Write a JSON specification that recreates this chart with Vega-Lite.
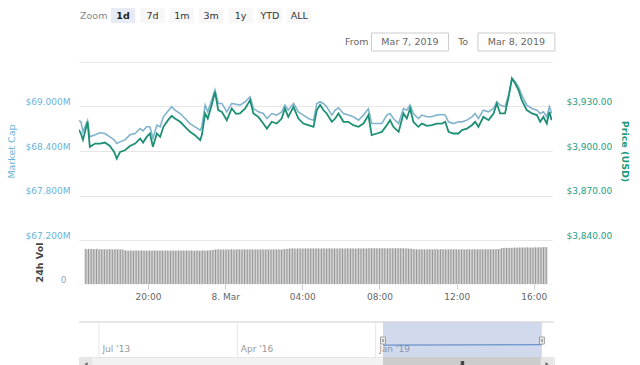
{
"$schema": "https://vega.github.io/schema/vega-lite/v6.json",
"padding": {"left": 6, "top": 8, "right": 5, "bottom": 0},
"background": "white",
"config": {"font": "DejaVu Sans", "view": {"stroke": null}},
"datasets": {
"btn": [{"b":"Zoom","k":0},{"b":"1d","k":2},{"b":"7d","k":1},{"b":"1m","k":1},{"b":"3m","k":1},{"b":"1y","k":1},{"b":"YTD","k":1},{"b":"ALL","k":1}],
"rng": [{"k":"From","label":"From","box":false},{"k":"d1","label":"Mar 7, 2019","box":true},{"k":"To","label":"To","box":false},{"k":"d2","label":"Mar 8, 2019","box":true}],
"sel": [{"s":"2019-02-23","e":"2022-04-22"}],
"navgrid": [{"g":"2013-07-01"},{"g":"2016-04-01"},{"g":"2019-01-01"}],
"navline": [{"d":"2019-02-23","y":0.34},{"d":"2022-04-22","y":0.35}],
"handles": [{"d":"2019-02-23"},{"d":"2022-04-22"}],
"grip": [{"d":"2020-09-22"}],
"px": [
{"t":"2019-03-07T16:41","p":3914.3,"c":68.807},
{"t":"2019-03-07T16:47","p":3911.6,"c":68.793},
{"t":"2019-03-07T16:53","p":3907.5,"c":68.658},
{"t":"2019-03-07T17:07","p":3919.7,"c":68.807},
{"t":"2019-03-07T17:14","p":3902.8,"c":68.591},
{"t":"2019-03-07T17:30","p":3905.0,"c":68.618},
{"t":"2019-03-07T17:45","p":3905.0,"c":68.645},
{"t":"2019-03-07T18:00","p":3905.7,"c":68.635},
{"t":"2019-03-07T18:15","p":3903.4,"c":68.591},
{"t":"2019-03-07T18:28","p":3899.4,"c":68.550},
{"t":"2019-03-07T18:36","p":3894.9,"c":68.500},
{"t":"2019-03-07T18:46","p":3899.4,"c":68.523},
{"t":"2019-03-07T19:01","p":3900.5,"c":68.550},
{"t":"2019-03-07T19:16","p":3903.4,"c":68.618},
{"t":"2019-03-07T19:32","p":3905.0,"c":68.635},
{"t":"2019-03-07T19:47","p":3908.4,"c":68.703},
{"t":"2019-03-07T19:56","p":3905.7,"c":68.672},
{"t":"2019-03-07T20:07","p":3909.5,"c":68.726},
{"t":"2019-03-07T20:17","p":3911.8,"c":68.726},
{"t":"2019-03-07T20:26","p":3902.8,"c":68.568},
{"t":"2019-03-07T20:38","p":3911.8,"c":68.749},
{"t":"2019-03-07T20:48","p":3909.5,"c":68.726},
{"t":"2019-03-07T20:58","p":3916.3,"c":68.861},
{"t":"2019-03-07T21:12","p":3920.8,"c":68.938},
{"t":"2019-03-07T21:23","p":3923.7,"c":68.996},
{"t":"2019-03-07T21:33","p":3921.9,"c":68.951},
{"t":"2019-03-07T21:49","p":3919.7,"c":68.905},
{"t":"2019-03-07T22:04","p":3916.3,"c":68.838},
{"t":"2019-03-07T22:19","p":3912.9,"c":68.770},
{"t":"2019-03-07T22:34","p":3910.7,"c":68.726},
{"t":"2019-03-07T22:50","p":3907.3,"c":68.681},
{"t":"2019-03-07T22:55","p":3910.7,"c":68.726},
{"t":"2019-03-07T23:05","p":3925.3,"c":69.019},
{"t":"2019-03-07T23:13","p":3921.9,"c":68.928},
{"t":"2019-03-07T23:25","p":3931.0,"c":69.086},
{"t":"2019-03-07T23:35","p":3939.9,"c":69.222},
{"t":"2019-03-07T23:45","p":3927.6,"c":69.041},
{"t":"2019-03-07T23:56","p":3926.4,"c":69.041},
{"t":"2019-03-08T00:11","p":3920.8,"c":68.928},
{"t":"2019-03-08T00:26","p":3928.7,"c":69.041},
{"t":"2019-03-08T00:39","p":3925.1,"c":69.030},
{"t":"2019-03-08T00:51","p":3925.3,"c":69.019},
{"t":"2019-03-08T01:07","p":3928.7,"c":69.064},
{"t":"2019-03-08T01:22","p":3934.3,"c":69.131},
{"t":"2019-03-08T01:32","p":3925.3,"c":68.973},
{"t":"2019-03-08T01:47","p":3923.0,"c":68.928},
{"t":"2019-03-08T02:02","p":3918.5,"c":68.905},
{"t":"2019-03-08T02:13","p":3915.1,"c":68.838},
{"t":"2019-03-08T02:28","p":3919.7,"c":68.905},
{"t":"2019-03-08T02:43","p":3918.5,"c":68.884},
{"t":"2019-03-08T02:58","p":3921.9,"c":68.928},
{"t":"2019-03-08T03:08","p":3928.7,"c":69.019},
{"t":"2019-03-08T03:18","p":3923.0,"c":68.951},
{"t":"2019-03-08T03:34","p":3929.8,"c":69.041},
{"t":"2019-03-08T03:49","p":3921.9,"c":68.928},
{"t":"2019-03-08T04:04","p":3918.5,"c":68.884},
{"t":"2019-03-08T04:19","p":3917.4,"c":68.838},
{"t":"2019-03-08T04:35","p":3916.3,"c":68.816},
{"t":"2019-03-08T04:45","p":3927.6,"c":69.041},
{"t":"2019-03-08T04:55","p":3931.0,"c":69.064},
{"t":"2019-03-08T05:05","p":3927.6,"c":69.041},
{"t":"2019-03-08T05:15","p":3925.3,"c":68.996},
{"t":"2019-03-08T05:31","p":3919.7,"c":68.884},
{"t":"2019-03-08T05:41","p":3921.9,"c":68.951},
{"t":"2019-03-08T05:51","p":3925.3,"c":68.982},
{"t":"2019-03-08T06:06","p":3919.7,"c":68.905},
{"t":"2019-03-08T06:21","p":3919.7,"c":68.884},
{"t":"2019-03-08T06:36","p":3917.4,"c":68.861},
{"t":"2019-03-08T06:52","p":3916.3,"c":68.816},
{"t":"2019-03-08T07:07","p":3918.5,"c":68.884},
{"t":"2019-03-08T07:22","p":3924.2,"c":68.969},
{"t":"2019-03-08T07:32","p":3910.7,"c":68.770},
{"t":"2019-03-08T07:48","p":3911.8,"c":68.770},
{"t":"2019-03-08T08:03","p":3912.9,"c":68.770},
{"t":"2019-03-08T08:18","p":3917.4,"c":68.884},
{"t":"2019-03-08T08:28","p":3920.8,"c":68.905},
{"t":"2019-03-08T08:38","p":3916.3,"c":68.838},
{"t":"2019-03-08T08:54","p":3912.9,"c":68.770},
{"t":"2019-03-08T09:09","p":3925.3,"c":68.973},
{"t":"2019-03-08T09:19","p":3921.9,"c":68.951},
{"t":"2019-03-08T09:29","p":3928.7,"c":69.019},
{"t":"2019-03-08T09:39","p":3919.7,"c":68.905},
{"t":"2019-03-08T09:54","p":3916.3,"c":68.838},
{"t":"2019-03-08T10:05","p":3918.5,"c":68.884},
{"t":"2019-03-08T10:20","p":3917.0,"c":68.861},
{"t":"2019-03-08T10:35","p":3917.4,"c":68.861},
{"t":"2019-03-08T10:50","p":3918.5,"c":68.884},
{"t":"2019-03-08T11:06","p":3918.5,"c":68.892},
{"t":"2019-03-08T11:16","p":3919.7,"c":68.884},
{"t":"2019-03-08T11:26","p":3912.9,"c":68.793},
{"t":"2019-03-08T11:41","p":3911.8,"c":68.770},
{"t":"2019-03-08T11:56","p":3911.8,"c":68.793},
{"t":"2019-03-08T12:07","p":3914.1,"c":68.793},
{"t":"2019-03-08T12:22","p":3915.1,"c":68.816},
{"t":"2019-03-08T12:37","p":3917.4,"c":68.861},
{"t":"2019-03-08T12:47","p":3919.7,"c":68.905},
{"t":"2019-03-08T12:57","p":3916.3,"c":68.838},
{"t":"2019-03-08T13:12","p":3923.0,"c":68.951},
{"t":"2019-03-08T13:28","p":3920.8,"c":68.928},
{"t":"2019-03-08T13:43","p":3925.3,"c":68.973},
{"t":"2019-03-08T13:53","p":3932.0,"c":69.064},
{"t":"2019-03-08T14:03","p":3925.3,"c":69.019},
{"t":"2019-03-08T14:18","p":3925.3,"c":68.996},
{"t":"2019-03-08T14:29","p":3936.6,"c":69.154},
{"t":"2019-03-08T14:39","p":3948.9,"c":69.378},
{"t":"2019-03-08T14:49","p":3945.5,"c":69.334},
{"t":"2019-03-08T14:59","p":3941.1,"c":69.266},
{"t":"2019-03-08T15:09","p":3934.3,"c":69.154},
{"t":"2019-03-08T15:24","p":3927.6,"c":69.019},
{"t":"2019-03-08T15:40","p":3925.3,"c":68.973},
{"t":"2019-03-08T15:55","p":3924.2,"c":68.951},
{"t":"2019-03-08T16:05","p":3919.7,"c":68.905},
{"t":"2019-03-08T16:15","p":3923.0,"c":68.928},
{"t":"2019-03-08T16:25","p":3918.5,"c":68.861},
{"t":"2019-03-08T16:33","p":3926.4,"c":68.996},
{"t":"2019-03-08T16:40","p":3920.8,"c":68.905}
],
"vol": [
{"t":"2019-03-07T16:45","v":10.7},{"t":"2019-03-07T16:50","v":10.6},{"t":"2019-03-07T16:55","v":10.7},
{"t":"2019-03-07T17:00","v":10.65},{"t":"2019-03-07T17:05","v":10.7},{"t":"2019-03-07T17:10","v":10.6},{"t":"2019-03-07T17:15","v":10.55},{"t":"2019-03-07T17:20","v":10.7},{"t":"2019-03-07T17:25","v":10.6},{"t":"2019-03-07T17:30","v":10.55},{"t":"2019-03-07T17:35","v":10.6},{"t":"2019-03-07T17:40","v":10.55},{"t":"2019-03-07T17:45","v":10.6},{"t":"2019-03-07T17:50","v":10.5},{"t":"2019-03-07T17:55","v":10.55},
{"t":"2019-03-07T18:00","v":10.6},{"t":"2019-03-07T18:05","v":10.55},{"t":"2019-03-07T18:10","v":10.5},{"t":"2019-03-07T18:15","v":10.55},{"t":"2019-03-07T18:20","v":10.6},{"t":"2019-03-07T18:25","v":10.55},{"t":"2019-03-07T18:30","v":10.5},{"t":"2019-03-07T18:35","v":10.55},{"t":"2019-03-07T18:40","v":10.5},{"t":"2019-03-07T18:45","v":10.45},{"t":"2019-03-07T18:50","v":10.2},{"t":"2019-03-07T18:55","v":10.2},
{"t":"2019-03-07T19:00","v":10.15},{"t":"2019-03-07T19:05","v":10.2},{"t":"2019-03-07T19:10","v":10.2},{"t":"2019-03-07T19:15","v":10.15},{"t":"2019-03-07T19:20","v":10.2},{"t":"2019-03-07T19:25","v":10.2},{"t":"2019-03-07T19:30","v":10.2},{"t":"2019-03-07T19:35","v":10.15},{"t":"2019-03-07T19:40","v":10.2},{"t":"2019-03-07T19:45","v":10.2},{"t":"2019-03-07T19:50","v":10.2},{"t":"2019-03-07T19:55","v":10.15},
{"t":"2019-03-07T20:00","v":10.2},{"t":"2019-03-07T20:05","v":10.2},{"t":"2019-03-07T20:10","v":10.15},{"t":"2019-03-07T20:15","v":10.2},{"t":"2019-03-07T20:20","v":10.2},{"t":"2019-03-07T20:25","v":10.2},{"t":"2019-03-07T20:30","v":10.15},{"t":"2019-03-07T20:35","v":10.2},{"t":"2019-03-07T20:40","v":10.2},{"t":"2019-03-07T20:45","v":10.2},{"t":"2019-03-07T20:50","v":10.15},{"t":"2019-03-07T20:55","v":10.2},
{"t":"2019-03-07T21:00","v":10.2},{"t":"2019-03-07T21:05","v":10.15},{"t":"2019-03-07T21:10","v":10.2},{"t":"2019-03-07T21:15","v":10.2},{"t":"2019-03-07T21:20","v":10.2},{"t":"2019-03-07T21:25","v":10.15},{"t":"2019-03-07T21:30","v":10.2},{"t":"2019-03-07T21:35","v":10.2},{"t":"2019-03-07T21:40","v":10.2},{"t":"2019-03-07T21:45","v":10.15},{"t":"2019-03-07T21:50","v":10.2},{"t":"2019-03-07T21:55","v":10.2},
{"t":"2019-03-07T22:00","v":10.2},{"t":"2019-03-07T22:05","v":10.15},{"t":"2019-03-07T22:10","v":10.2},{"t":"2019-03-07T22:15","v":10.2},{"t":"2019-03-07T22:20","v":10.2},{"t":"2019-03-07T22:25","v":10.15},{"t":"2019-03-07T22:30","v":10.2},{"t":"2019-03-07T22:35","v":10.2},{"t":"2019-03-07T22:40","v":10.15},{"t":"2019-03-07T22:45","v":10.2},{"t":"2019-03-07T22:50","v":10.2},{"t":"2019-03-07T22:55","v":10.2},
{"t":"2019-03-07T23:00","v":10.15},{"t":"2019-03-07T23:05","v":10.2},{"t":"2019-03-07T23:10","v":10.25},{"t":"2019-03-07T23:15","v":10.3},{"t":"2019-03-07T23:20","v":10.35},{"t":"2019-03-07T23:25","v":10.4},{"t":"2019-03-07T23:30","v":10.5},{"t":"2019-03-07T23:35","v":10.5},{"t":"2019-03-07T23:40","v":10.55},{"t":"2019-03-07T23:45","v":10.5},{"t":"2019-03-07T23:50","v":10.5},{"t":"2019-03-07T23:55","v":10.5},
{"t":"2019-03-08T00:00","v":10.5},{"t":"2019-03-08T00:05","v":10.55},{"t":"2019-03-08T00:10","v":10.5},{"t":"2019-03-08T00:15","v":10.5},{"t":"2019-03-08T00:20","v":10.55},{"t":"2019-03-08T00:25","v":10.5},{"t":"2019-03-08T00:30","v":10.5},{"t":"2019-03-08T00:35","v":10.5},{"t":"2019-03-08T00:40","v":10.55},{"t":"2019-03-08T00:45","v":10.5},{"t":"2019-03-08T00:50","v":10.5},{"t":"2019-03-08T00:55","v":10.5},
{"t":"2019-03-08T01:00","v":10.55},{"t":"2019-03-08T01:05","v":10.5},{"t":"2019-03-08T01:10","v":10.5},{"t":"2019-03-08T01:15","v":10.5},{"t":"2019-03-08T01:20","v":10.55},{"t":"2019-03-08T01:25","v":10.5},{"t":"2019-03-08T01:30","v":10.5},{"t":"2019-03-08T01:35","v":10.55},{"t":"2019-03-08T01:40","v":10.5},{"t":"2019-03-08T01:45","v":10.5},{"t":"2019-03-08T01:50","v":10.5},{"t":"2019-03-08T01:55","v":10.55},
{"t":"2019-03-08T02:00","v":10.5},{"t":"2019-03-08T02:05","v":10.5},{"t":"2019-03-08T02:10","v":10.55},{"t":"2019-03-08T02:15","v":10.5},{"t":"2019-03-08T02:20","v":10.5},{"t":"2019-03-08T02:25","v":10.5},{"t":"2019-03-08T02:30","v":10.55},{"t":"2019-03-08T02:35","v":10.5},{"t":"2019-03-08T02:40","v":10.5},{"t":"2019-03-08T02:45","v":10.55},{"t":"2019-03-08T02:50","v":10.5},{"t":"2019-03-08T02:55","v":10.5},
{"t":"2019-03-08T03:00","v":10.55},{"t":"2019-03-08T03:05","v":10.6},{"t":"2019-03-08T03:10","v":10.65},{"t":"2019-03-08T03:15","v":10.7},{"t":"2019-03-08T03:20","v":10.8},{"t":"2019-03-08T03:25","v":10.8},{"t":"2019-03-08T03:30","v":10.85},{"t":"2019-03-08T03:35","v":10.8},{"t":"2019-03-08T03:40","v":10.8},{"t":"2019-03-08T03:45","v":10.8},{"t":"2019-03-08T03:50","v":10.85},{"t":"2019-03-08T03:55","v":10.8},
{"t":"2019-03-08T04:00","v":10.8},{"t":"2019-03-08T04:05","v":10.8},{"t":"2019-03-08T04:10","v":10.85},{"t":"2019-03-08T04:15","v":10.8},{"t":"2019-03-08T04:20","v":10.8},{"t":"2019-03-08T04:25","v":10.8},{"t":"2019-03-08T04:30","v":10.85},{"t":"2019-03-08T04:35","v":10.8},{"t":"2019-03-08T04:40","v":10.8},{"t":"2019-03-08T04:45","v":10.85},{"t":"2019-03-08T04:50","v":10.8},{"t":"2019-03-08T04:55","v":10.8},
{"t":"2019-03-08T05:00","v":10.8},{"t":"2019-03-08T05:05","v":10.85},{"t":"2019-03-08T05:10","v":10.8},{"t":"2019-03-08T05:15","v":10.8},{"t":"2019-03-08T05:20","v":10.8},{"t":"2019-03-08T05:25","v":10.85},{"t":"2019-03-08T05:30","v":10.8},{"t":"2019-03-08T05:35","v":10.8},{"t":"2019-03-08T05:40","v":10.85},{"t":"2019-03-08T05:45","v":10.8},{"t":"2019-03-08T05:50","v":10.8},{"t":"2019-03-08T05:55","v":10.8},
{"t":"2019-03-08T06:00","v":10.85},{"t":"2019-03-08T06:05","v":10.8},{"t":"2019-03-08T06:10","v":10.8},{"t":"2019-03-08T06:15","v":10.8},{"t":"2019-03-08T06:20","v":10.85},{"t":"2019-03-08T06:25","v":10.8},{"t":"2019-03-08T06:30","v":10.8},{"t":"2019-03-08T06:35","v":10.85},{"t":"2019-03-08T06:40","v":10.8},{"t":"2019-03-08T06:45","v":10.8},{"t":"2019-03-08T06:50","v":10.8},{"t":"2019-03-08T06:55","v":10.85},
{"t":"2019-03-08T07:00","v":10.8},{"t":"2019-03-08T07:05","v":10.8},{"t":"2019-03-08T07:10","v":10.85},{"t":"2019-03-08T07:15","v":10.8},{"t":"2019-03-08T07:20","v":10.8},{"t":"2019-03-08T07:25","v":10.9},{"t":"2019-03-08T07:30","v":10.85},{"t":"2019-03-08T07:35","v":10.9},{"t":"2019-03-08T07:40","v":10.85},{"t":"2019-03-08T07:45","v":10.85},{"t":"2019-03-08T07:50","v":10.9},{"t":"2019-03-08T07:55","v":10.85},
{"t":"2019-03-08T08:00","v":10.85},{"t":"2019-03-08T08:05","v":10.9},{"t":"2019-03-08T08:10","v":10.85},{"t":"2019-03-08T08:15","v":10.85},{"t":"2019-03-08T08:20","v":10.9},{"t":"2019-03-08T08:25","v":10.85},{"t":"2019-03-08T08:30","v":10.85},{"t":"2019-03-08T08:35","v":10.9},{"t":"2019-03-08T08:40","v":10.85},{"t":"2019-03-08T08:45","v":10.85},{"t":"2019-03-08T08:50","v":10.9},{"t":"2019-03-08T08:55","v":10.85},
{"t":"2019-03-08T09:00","v":10.85},{"t":"2019-03-08T09:05","v":10.9},{"t":"2019-03-08T09:10","v":10.85},{"t":"2019-03-08T09:15","v":10.85},{"t":"2019-03-08T09:20","v":10.8},{"t":"2019-03-08T09:25","v":10.85},{"t":"2019-03-08T09:30","v":10.8},{"t":"2019-03-08T09:35","v":10.75},{"t":"2019-03-08T09:40","v":10.7},{"t":"2019-03-08T09:45","v":10.65},{"t":"2019-03-08T09:50","v":10.55},{"t":"2019-03-08T09:55","v":10.55},
{"t":"2019-03-08T10:00","v":10.55},{"t":"2019-03-08T10:05","v":10.5},{"t":"2019-03-08T10:10","v":10.55},{"t":"2019-03-08T10:15","v":10.55},{"t":"2019-03-08T10:20","v":10.55},{"t":"2019-03-08T10:25","v":10.5},{"t":"2019-03-08T10:30","v":10.55},{"t":"2019-03-08T10:35","v":10.55},{"t":"2019-03-08T10:40","v":10.55},{"t":"2019-03-08T10:45","v":10.5},{"t":"2019-03-08T10:50","v":10.55},{"t":"2019-03-08T10:55","v":10.55},
{"t":"2019-03-08T11:00","v":10.55},{"t":"2019-03-08T11:05","v":10.5},{"t":"2019-03-08T11:10","v":10.55},{"t":"2019-03-08T11:15","v":10.55},{"t":"2019-03-08T11:20","v":10.55},{"t":"2019-03-08T11:25","v":10.5},{"t":"2019-03-08T11:30","v":10.55},{"t":"2019-03-08T11:35","v":10.55},{"t":"2019-03-08T11:40","v":10.55},{"t":"2019-03-08T11:45","v":10.5},{"t":"2019-03-08T11:50","v":10.55},{"t":"2019-03-08T11:55","v":10.55},
{"t":"2019-03-08T12:00","v":10.55},{"t":"2019-03-08T12:05","v":10.5},{"t":"2019-03-08T12:10","v":10.55},{"t":"2019-03-08T12:15","v":10.55},{"t":"2019-03-08T12:20","v":10.55},{"t":"2019-03-08T12:25","v":10.5},{"t":"2019-03-08T12:30","v":10.55},{"t":"2019-03-08T12:35","v":10.55},{"t":"2019-03-08T12:40","v":10.55},{"t":"2019-03-08T12:45","v":10.5},{"t":"2019-03-08T12:50","v":10.55},{"t":"2019-03-08T12:55","v":10.55},
{"t":"2019-03-08T13:00","v":10.55},{"t":"2019-03-08T13:05","v":10.5},{"t":"2019-03-08T13:10","v":10.55},{"t":"2019-03-08T13:15","v":10.55},{"t":"2019-03-08T13:20","v":10.55},{"t":"2019-03-08T13:25","v":10.5},{"t":"2019-03-08T13:30","v":10.55},{"t":"2019-03-08T13:35","v":10.55},{"t":"2019-03-08T13:40","v":10.6},{"t":"2019-03-08T13:45","v":10.55},{"t":"2019-03-08T13:50","v":10.6},{"t":"2019-03-08T13:55","v":10.6},
{"t":"2019-03-08T14:00","v":10.6},{"t":"2019-03-08T14:05","v":10.65},{"t":"2019-03-08T14:10","v":10.6},{"t":"2019-03-08T14:15","v":10.7},{"t":"2019-03-08T14:20","v":11.0},{"t":"2019-03-08T14:25","v":11.0},{"t":"2019-03-08T14:30","v":11.05},{"t":"2019-03-08T14:35","v":11.0},{"t":"2019-03-08T14:40","v":11.05},{"t":"2019-03-08T14:45","v":11.0},{"t":"2019-03-08T14:50","v":11.05},{"t":"2019-03-08T14:55","v":11.05},
{"t":"2019-03-08T15:00","v":11.1},{"t":"2019-03-08T15:05","v":11.05},{"t":"2019-03-08T15:10","v":11.1},{"t":"2019-03-08T15:15","v":11.1},{"t":"2019-03-08T15:20","v":11.1},{"t":"2019-03-08T15:25","v":11.15},{"t":"2019-03-08T15:30","v":11.1},{"t":"2019-03-08T15:35","v":11.15},{"t":"2019-03-08T15:40","v":11.2},{"t":"2019-03-08T15:45","v":11.15},{"t":"2019-03-08T15:50","v":11.1},{"t":"2019-03-08T15:55","v":11.15},
{"t":"2019-03-08T16:00","v":11.15},{"t":"2019-03-08T16:05","v":11.2},{"t":"2019-03-08T16:10","v":11.15},{"t":"2019-03-08T16:15","v":11.2},{"t":"2019-03-08T16:20","v":11.15},{"t":"2019-03-08T16:25","v":11.2},{"t":"2019-03-08T16:30","v":11.2},{"t":"2019-03-08T16:35","v":11.25},{"t":"2019-03-08T16:40","v":11.2}
]
},
"bounds": "flush",
"spacing": 0,
"vconcat": [
{
"width": 235, "height": 25,
"data": {"name": "btn"},
"encoding": {
"x": {"field": "b", "type": "nominal", "sort": null, "scale": {"domain": ["Zoom","1d","7d","1m","3m","1y","YTD","ALL"], "paddingInner": 0.18, "paddingOuter": 0.09}, "axis": null},
"y": {"datum": "r", "type": "nominal", "scale": {"domain": ["r"], "paddingInner": 0, "paddingOuter": 0.3333, "align": 0}, "axis": null}
},
"layer": [
{"transform": [{"filter": "datum.k > 0"}], "mark": {"type": "bar"}, "encoding": {"color": {"condition": {"test": "datum.k == 2", "value": "#e6ebf5"}, "value": "#f7f7f7"}}},
{"transform": [{"filter": "datum.k != 2"}], "mark": {"type": "text", "fontSize": 9.5}, "encoding": {"text": {"field": "b"}, "color": {"condition": {"test": "datum.k == 0", "value": "#888888"}, "value": "#333333"}}},
{"transform": [{"filter": "datum.k == 2"}], "mark": {"type": "text", "fontSize": 9.5, "fontWeight": "bold", "color": "#222222"}, "encoding": {"text": {"field": "b"}}}
]
},
{
"width": 464, "height": 29,
"data": {"name": "rng"},
"encoding": {
"x": {"field": "k", "type": "nominal", "sort": null, "scale": {"domain": ["p1","p2","p3","p4","From","d1","To","d2"], "paddingInner": 0, "paddingOuter": 0.36, "align": 1}, "axis": null},
"y": {"datum": "r", "type": "nominal", "scale": {"domain": ["r"], "paddingInner": 0, "paddingOuter": 0.3056, "align": 0}, "axis": null}
},
"layer": [
{"transform": [{"filter": "datum.box"}], "mark": {"type": "bar", "width": 77, "fill": "white", "stroke": "#cccccc", "strokeWidth": 1}},
{"mark": {"type": "text", "fontSize": 9.5, "color": "#666666"}, "encoding": {"text": {"field": "label"}}}
]
},
{
"width": 473, "height": 178,
"data": {"name": "px"},
"encoding": {"x": {"field": "t", "type": "temporal", "scale": {"domain": [{"year":2019,"month":3,"date":7,"hours":16,"minutes":41},{"year":2019,"month":3,"date":8,"hours":16,"minutes":41}]}, "axis": null}},
"layer": [
{"mark": {"type": "line", "color": "#80b3cd", "strokeWidth": 1.6, "clip": true},
 "encoding": {"y": {"field": "c", "type": "quantitative", "scale": {"domain": [67.2, 69.6], "zero": false, "nice": false},
  "axis": {"orient": "left", "values": [67.2, 67.8, 68.4, 69.0, 69.6], "labelExpr": "datum.value > 69.5 ? '' : '$' + format(datum.value, '.3f') + 'M'", "grid": true, "gridColor": "#e6e6e6", "domain": false, "ticks": false, "labelColor": "#6ab3d9", "labelFontSize": 9, "labelPadding": 9, "labelOffset": -5, "title": "Market Cap", "titleColor": "#6ab3d9", "titleFontSize": 9.5, "titleFontWeight": "normal", "titlePadding": 9}}}},
{"mark": {"type": "line", "color": "#1d8f74", "strokeWidth": 1.8, "clip": true},
 "encoding": {"y": {"field": "p", "type": "quantitative", "scale": {"domain": [3840, 3960], "zero": false, "nice": false},
  "axis": {"orient": "right", "values": [3840, 3870, 3900, 3930, 3960], "labelExpr": "datum.value > 3950 ? '' : format(datum.value, '$,.2f')", "grid": false, "domain": false, "ticks": false, "labelColor": "#23a085", "labelFontSize": 9, "labelPadding": 14, "labelOffset": -5, "title": "Price (USD)", "titleColor": "#1b9a7c", "titleFontSize": 9.5, "titleFontWeight": "bold", "titlePadding": 8}}}}
],
"resolve": {"scale": {"y": "independent"}}
},
{
"width": 473, "height": 44,
"data": {"name": "vol"},
"mark": {"type": "bar", "color": "#9a9a9a", "width": 1.1},
"encoding": {
"x": {"field": "t", "type": "temporal", "scale": {"domain": [{"year":2019,"month":3,"date":7,"hours":16,"minutes":41},{"year":2019,"month":3,"date":8,"hours":16,"minutes":41}]},
 "axis": {"values": [{"year":2019,"month":3,"date":7,"hours":20},{"year":2019,"month":3,"date":8,"hours":0},{"year":2019,"month":3,"date":8,"hours":4},{"year":2019,"month":3,"date":8,"hours":8},{"year":2019,"month":3,"date":8,"hours":12},{"year":2019,"month":3,"date":8,"hours":16}],
  "labelExpr": "hours(datum.value) == 0 ? timeFormat(datum.value, '%-d. %b') : timeFormat(datum.value, '%H:%M')",
  "grid": false, "domain": true, "domainColor": "#e0e0e0", "domainDash": [1, 2], "ticks": true, "tickColor": "#cccccc", "tickSize": 5, "labelColor": "#666666", "labelFontSize": 9, "labelPadding": 3, "title": null, "labelFlush": false, "labelOverlap": false}},
"y": {"field": "v", "type": "quantitative", "scale": {"domain": [0, 13.4], "nice": false},
 "axis": {"values": [0], "labelOffset": -5, "grid": false, "domain": false, "ticks": false, "labelColor": "#9aa8b3", "labelFontSize": 9, "labelPadding": 13, "title": "24h Vol", "titleColor": "#444444", "titleFontSize": 9.5, "titleFontWeight": "bold", "titlePadding": 16}}
}
},
{
"width": 475, "height": 73,
"layer": [
{"data": {"name": "navgrid"}, "mark": {"type": "rule", "color": "#e6e6e6"},
 "encoding": {"x": {"field": "g", "type": "temporal", "scale": {"domain": [{"year":2013,"month":2,"date":6},{"year":2022,"month":7,"date":19}]},
  "axis": {"values": [{"year":2013,"month":7,"date":1},{"year":2016,"month":4,"date":1},{"year":2019,"month":1,"date":1}], "labelExpr": "timeFormat(datum.value, \"%b '%y\")", "grid": false, "domain": false, "ticks": false, "labelAlign": "left", "labelOffset": 3, "labelBaseline": "alphabetic", "labelPadding": -6, "labelColor": "#999999", "labelFontSize": 9, "labelFlush": false, "labelOverlap": false, "title": null}},
  "y": {"datum": 0, "type": "quantitative", "scale": {"domain": [0, 2.0857], "nice": false, "zero": false}, "axis": null},
  "y2": {"datum": 1}}},
{"data": {"name": "sel"}, "mark": {"type": "rect", "color": "#6685c2", "opacity": 0.3},
 "encoding": {"x": {"field": "s", "type": "temporal"}, "x2": {"field": "e"}, "y": {"datum": 1, "type": "quantitative"}, "y2": {"datum": 0}}},
{"data": {"values": [{}]}, "mark": {"type": "rule", "color": "#cccccc"}, "encoding": {"y": {"datum": 1, "type": "quantitative"}}},
{"data": {"name": "navline"}, "mark": {"type": "line", "color": "#4d7fc4", "strokeWidth": 1}, "encoding": {"x": {"field": "d", "type": "temporal"}, "y": {"field": "y", "type": "quantitative"}}},
{"data": {"name": "handles"}, "mark": {"type": "point", "shape": "M-0.7,-1L0.7,-1L0.7,1L-0.7,1Z M-0.2,-0.5L-0.2,0.5 M0.2,-0.5L0.2,0.5", "size": 49, "filled": false, "fill": "white", "fillOpacity": 1, "stroke": "#999999", "strokeWidth": 1, "opacity": 1}, "encoding": {"x": {"field": "d", "type": "temporal"}, "y": {"datum": 0.47, "type": "quantitative"}}}
]
},
{
"width": 475, "height": 14,
"view": {"fill": "#f2f2f2", "stroke": "#e6e6e6"},
"layer": [
{"data": {"name": "sel"}, "mark": {"type": "rect", "color": "#cccccc"},
 "encoding": {"x": {"field": "s", "type": "temporal", "scale": {"domain": [{"year":2013,"month":2,"date":6},{"year":2022,"month":7,"date":19}]}, "axis": null}, "x2": {"field": "e"}}},
{"data": {"name": "grip"}, "mark": {"type": "point", "shape": "M-0.4,-1L-0.4,1M0,-1L0,1M0.4,-1L0.4,1", "size": 36, "filled": false, "stroke": "#333333", "strokeWidth": 1, "opacity": 1},
 "encoding": {"x": {"field": "d", "type": "temporal"}}},
{"data": {"values": [{}]}, "mark": {"type": "point", "shape": "square", "size": 160, "filled": true, "color": "#e6e6e6", "opacity": 1, "xOffset": 7},
 "encoding": {"x": {"datum": {"year":2013,"month":2,"date":6}, "type": "temporal"}}},
{"data": {"values": [{}]}, "mark": {"type": "point", "shape": "triangle-left", "size": 14, "filled": true, "color": "#666666", "opacity": 1, "xOffset": 7},
 "encoding": {"x": {"datum": {"year":2013,"month":2,"date":6}, "type": "temporal"}}},
{"data": {"values": [{}]}, "mark": {"type": "point", "shape": "square", "size": 160, "filled": true, "color": "#e6e6e6", "opacity": 1, "xOffset": -7},
 "encoding": {"x": {"datum": {"year":2022,"month":7,"date":19}, "type": "temporal"}}},
{"data": {"values": [{}]}, "mark": {"type": "point", "shape": "triangle-right", "size": 14, "filled": true, "color": "#666666", "opacity": 1, "xOffset": -7},
 "encoding": {"x": {"datum": {"year":2022,"month":7,"date":19}, "type": "temporal"}}}
]
}
]
}
